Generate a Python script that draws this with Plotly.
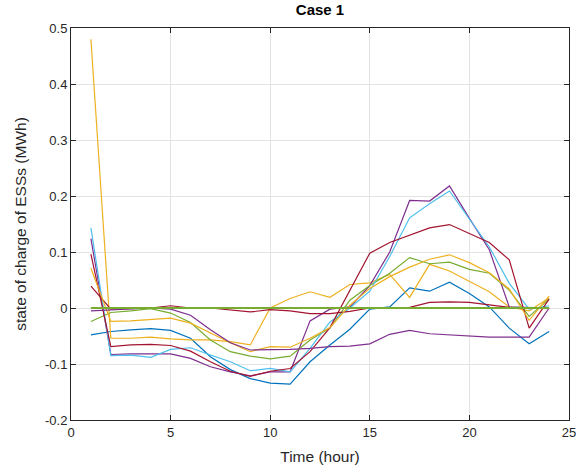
import plotly.graph_objects as go

hours = list(range(1, 25))

blue = [-0.048, -0.042, -0.039, -0.037, -0.040, -0.054, -0.087, -0.110, -0.126, -0.134, -0.136, -0.096,
        -0.066, -0.038, -0.002, 0.002, 0.036, 0.030, 0.046, 0.026, 0.002, -0.036, -0.064, -0.042]
orange_zero = [0.0, 0.0, 0.0, 0.0, 0.0, 0.0, 0.0, 0.0, 0.0, 0.0, 0.0, 0.0,
               0.0, 0.0, 0.0, 0.0, 0.0, 0.0, 0.0, 0.0, 0.0, 0.0, 0.0, 0.0]
yellow_a = [0.480, -0.054, -0.054, -0.052, -0.055, -0.057, -0.057, -0.060, -0.066, 0.000, 0.017, 0.029,
            0.019, 0.042, 0.045, 0.060, 0.019, 0.078, 0.066, 0.047, 0.029, 0.002, -0.005, 0.018]
yellow_b = [0.071, -0.024, -0.023, -0.021, -0.018, -0.027, -0.045, -0.062, -0.078, -0.069, -0.070, -0.054,
            -0.035, 0.005, 0.035, 0.056, 0.073, 0.087, 0.095, 0.081, 0.063, 0.034, -0.022, 0.021]
purple_a = [0.124, -0.083, -0.082, -0.082, -0.082, -0.090, -0.105, -0.114, -0.121, -0.114, -0.114, -0.023,
            -0.002, 0.002, 0.040, 0.100, 0.192, 0.191, 0.218, 0.160, 0.104, 0.002, 0.001, 0.000]
purple_c = [-0.005, -0.003, -0.001, 0.000, -0.002, -0.013, -0.039, -0.062, -0.075, -0.075, -0.074, -0.072,
            -0.069, -0.068, -0.064, -0.047, -0.040, -0.046, -0.048, -0.051, -0.052, -0.052, -0.052, 0.000]
green_a = [-0.024, -0.008, -0.005, -0.001, -0.009, -0.026, -0.057, -0.078, -0.086, -0.091, -0.086, -0.057,
           -0.036, 0.014, 0.040, 0.062, 0.090, 0.079, 0.082, 0.069, 0.062, 0.032, -0.015, 0.016]
light_blue = [0.143, -0.085, -0.084, -0.088, -0.074, -0.071, -0.084, -0.096, -0.112, -0.108, -0.114, -0.072,
              -0.025, 0.000, 0.030, 0.092, 0.161, 0.186, 0.209, 0.160, 0.109, 0.044, -0.002, 0.004]
red_a = [0.096, -0.069, -0.066, -0.065, -0.067, -0.077, -0.096, -0.113, -0.122, -0.113, -0.108, -0.078,
         -0.035, 0.032, 0.098, 0.117, 0.130, 0.143, 0.149, 0.133, 0.117, 0.086, -0.036, 0.016]
red_b = [0.039, -0.002, -0.001, 0.000, 0.004, 0.000, 0.000, -0.003, -0.007, -0.003, -0.005, -0.010,
         -0.010, -0.006, 0.000, 0.000, 0.001, 0.010, 0.011, 0.010, 0.005, 0.001, 0.000, 0.000]
green_zero = [0.0, 0.0, 0.0, 0.0, 0.0, 0.0, 0.0, 0.0, 0.0, 0.0, 0.0, 0.0,
              0.0, 0.0, 0.0, 0.0, 0.0, 0.0, 0.0, 0.0, 0.0, 0.0, 0.0, 0.0]

series = [
    (blue, "#0072BD", 1.2),
    (orange_zero, "#D95319", 1.2),
    (yellow_a, "#EDB120", 1.2),
    (purple_a, "#7E2F8E", 1.2),
    (green_a, "#77AC30", 1.2),
    (light_blue, "#4DBEEE", 1.2),
    (red_a, "#A2142F", 1.2),
    (red_b, "#A2142F", 1.2),
    (yellow_b, "#EDB120", 1.2),
    (purple_c, "#7E2F8E", 1.2),
    (green_zero, "#77AC30", 2.2),
]

fig = go.Figure()
for vals, col, w in series:
    fig.add_trace(go.Scatter(x=hours, y=vals, mode="lines",
                             line=dict(color=col, width=w), showlegend=False))

font_family = "Liberation Sans, Arial, sans-serif"
axis_common = dict(
    showline=True, linecolor="#262626", linewidth=1, mirror="allticks",
    ticks="inside", ticklen=5, tickcolor="#262626",
    showgrid=True, gridcolor="#e3e3e3", gridwidth=1, automargin=False,
    zeroline=False, tickfont=dict(family=font_family, size=13, color="#262626"),
)
fig.update_layout(
    width=586, height=470,
    margin=dict(l=71, r=17, t=28, b=50),
    paper_bgcolor="white", plot_bgcolor="white",
    title=dict(text="<b>Case 1</b>", x=0.5, xref="paper", xanchor="center", y=0.99, yanchor="top",
               font=dict(family=font_family, size=15, color="black")),
    xaxis=dict(range=[0, 25], tickvals=[0, 5, 10, 15, 20, 25],
               title=dict(text="Time (hour)", font=dict(family=font_family, size=15.5, color="#262626"), standoff=12),
               **axis_common),
    yaxis=dict(range=[-0.2, 0.5], tickvals=[-0.2, -0.1, 0, 0.1, 0.2, 0.3, 0.4, 0.5],
               ticktext=["-0.2", "-0.1", "0", "0.1", "0.2", "0.3", "0.4", "0.5"],
               title=dict(text="state of charge of ESSs (MWh)", font=dict(family=font_family, size=15.5, color="#262626"), standoff=14),
               **axis_common),
)
fig.write_html("out.html")
